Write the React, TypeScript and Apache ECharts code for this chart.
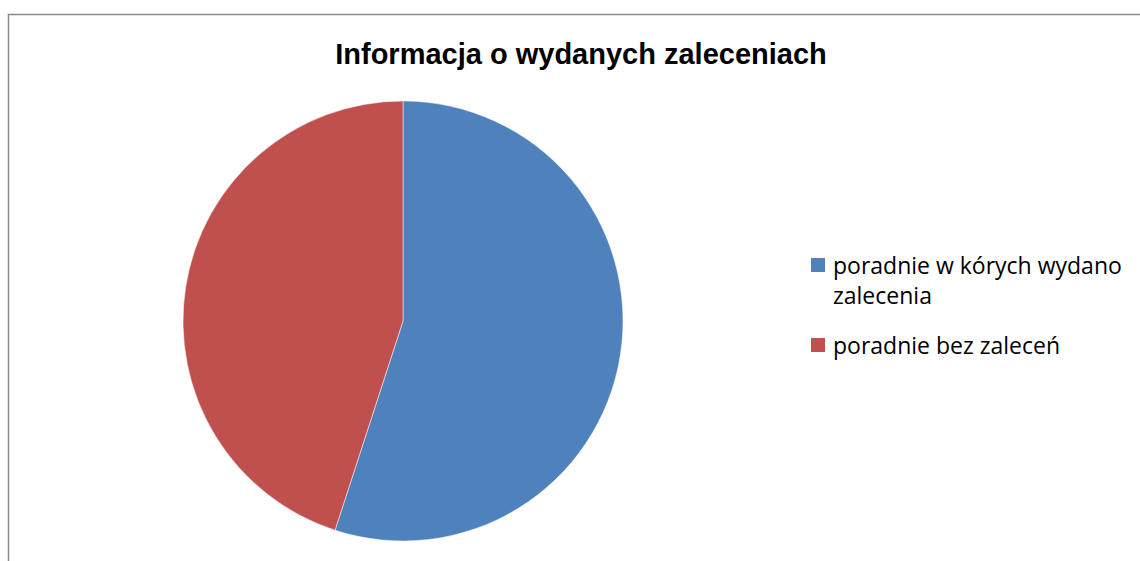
import React, { useEffect, useRef } from "react";
import * as echarts from "echarts";

const title = "Informacja o wydanych zaleceniach";
const categories = ["poradnie w kórych wydano zalecenia", "poradnie bez zaleceń"];
const legendLines = [["poradnie w kórych wydano", "zalecenia"], ["poradnie bez zaleceń"]];
const values = [55, 45];
const colors = ["#4F81BD", "#C0504D"];

export default function App() {
  const ref = useRef<HTMLDivElement>(null);
  useEffect(() => {
    if (!ref.current) return;
    const chart = echarts.init(ref.current, null, { renderer: "svg" });
    const font = "'Open Sans', 'Noto Sans', sans-serif";
    const legendTop = [258, 338];
    const legendGraphics: any[] = [];
    categories.forEach((c, i) => {
      legendGraphics.push({
        type: "rect",
        shape: { x: 811, y: legendTop[i], width: 14, height: 14 },
        style: { fill: colors[i] },
      });
      legendGraphics.push({
        type: "text",
        x: 833,
        y: legendTop[i] - 8,
        style: {
          text: legendLines[i].join("\n"),
          font: `23px ${font}`,
          fill: "#000",
          lineHeight: 30,
          textVerticalAlign: "top",
        },
      });
    });
    chart.setOption({
      animation: false,
      backgroundColor: "#fff",
      title: {
        text: title,
        left: 576,
        top: 34,
        textAlign: "center",
        textStyle: {
          fontFamily: "'Liberation Sans', Arial, sans-serif",
          fontWeight: "bold",
          fontSize: 29,
          color: "#000",
        },
      },
      graphic: [
        {
          type: "rect",
          shape: { x: 8.5, y: 14.5, width: 1200, height: 700 },
          style: { fill: "none", stroke: "#8a8a8a", lineWidth: 1.5 },
          silent: true,
        },
        ...legendGraphics,
      ],
      series: [
        {
          type: "pie",
          center: [403, 321],
          radius: 220,
          startAngle: 90,
          clockwise: true,
          label: { show: false },
          labelLine: { show: false },
          emphasis: { disabled: true },
          itemStyle: { borderColor: "#fff", borderWidth: 0.5 },
          data: categories.map((c, i) => ({
            name: c,
            value: values[i],
            itemStyle: { color: colors[i] },
          })),
        },
      ],
    });
    return () => chart.dispose();
  }, []);
  return (
    <div
      ref={ref}
      style={{ position: "fixed", left: 0, top: 0, width: 1140, height: 561 }}
    />
  );
}
